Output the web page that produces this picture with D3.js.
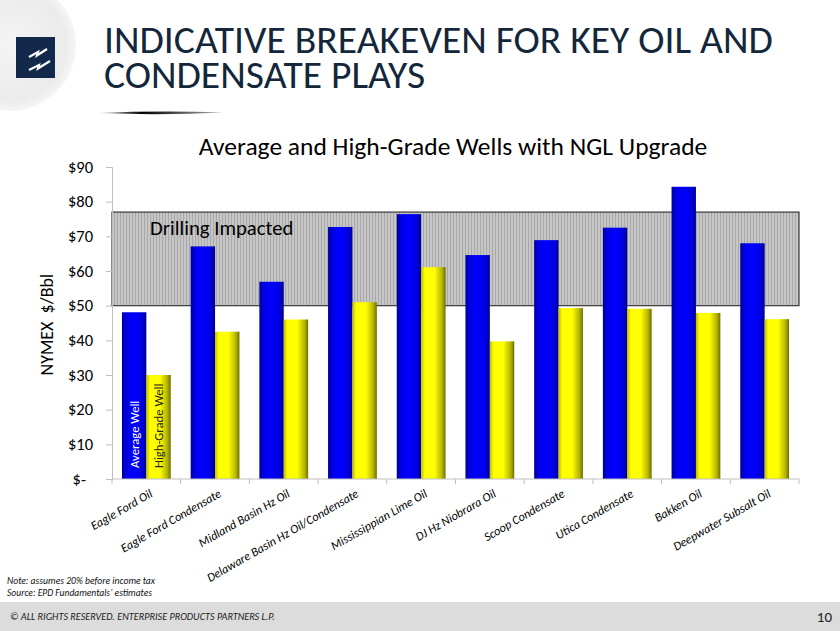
<!DOCTYPE html>
<html>
<head>
<meta charset="utf-8">
<script src="https://cdn.jsdelivr.net/npm/d3@7"></script>
<style>
  body { margin: 0; background: #fff; }
  svg { display: block; font-family: Carlito, Calibri, "Open Sans", sans-serif; }
</style>
</head>
<body>
<script>
// chart data
var categories = ["Eagle Ford Oil", "Eagle Ford Condensate", "Midland Basin Hz Oil",
    "Delaware Basin Hz Oil/Condensate", "Mississippian Lime Oil", "DJ Hz Niobrara Oil",
    "Scoop Condensate", "Utica Condensate", "Bakken Oil", "Deepwater Subsalt Oil"];
var averageWell = [48.1, 67.1, 56.9, 72.7, 76.4, 64.6, 68.9, 72.5, 84.3, 68.0];
var highGradeWell = [30.0, 42.5, 46.0, 51.0, 61.1, 39.7, 49.3, 49.1, 47.9, 46.1];
var seriesNames = ["Average Well", "High-Grade Well"];
var yTicks = [0, 10, 20, 30, 40, 50, 60, 70, 80, 90];
var impactedBand = [50, 77];

var width = 840, height = 631;
var plot = {left: 112, right: 799, top: 167, bottom: 479};

var svg = d3.select("body").append("svg")
    .attr("width", width)
    .attr("height", height);

var defs = svg.append("defs");

// bar gradients
function barGradient(id, stops){
    var g = defs.append("linearGradient").attr("id", id)
        .attr("x1", "0%").attr("x2", "100%").attr("y1", "0%").attr("y2", "0%");
    stops.forEach(function(s){
        g.append("stop").attr("offset", s[0]).attr("stop-color", s[1]);
    });
}
barGradient("gradBlue", [["0%", "#00009a"], ["18%", "#0000e6"], ["50%", "#0000ff"], ["82%", "#0000e0"], ["100%", "#000090"]]);
barGradient("gradYellow", [["0%", "#bdbd00"], ["15%", "#ffff00"], ["55%", "#ffff00"], ["85%", "#b5b500"], ["100%", "#6e6e00"]]);

var logoGrad = defs.append("radialGradient").attr("id", "logoBg");
logoGrad.append("stop").attr("offset", "0%").attr("stop-color", "#f4f4f4");
logoGrad.append("stop").attr("offset", "85%").attr("stop-color", "#ebebeb");
logoGrad.append("stop").attr("offset", "100%").attr("stop-color", "#f6f6f6");

var swoosh = defs.append("linearGradient").attr("id", "swoosh");
swoosh.append("stop").attr("offset", "0%").attr("stop-color", "#000").attr("stop-opacity", 0.2);
swoosh.append("stop").attr("offset", "35%").attr("stop-color", "#000");
swoosh.append("stop").attr("offset", "100%").attr("stop-color", "#000").attr("stop-opacity", 0.3);

// striped fill for the drilling impacted band
var pat = defs.append("pattern").attr("id", "stripes")
    .attr("patternUnits", "userSpaceOnUse").attr("width", 3).attr("height", 4);
pat.append("rect").attr("width", 3).attr("height", 4).attr("fill", "#c6c6c6");
pat.append("rect").attr("width", 1).attr("height", 4).attr("fill", "#a9a9a9");

// logo corner
svg.append("circle").attr("cx", 10).attr("cy", 45).attr("r", 66).attr("fill", "url(#logoBg)");
svg.append("rect").attr("x", 16).attr("y", 37).attr("width", 39).attr("height", 41).attr("fill", "#13294b");
svg.append("path")
    .attr("d", "M29,57 L38,52 L37,55.5 L47,49 M29,70 L39,65 L38,68.5 L50,61")
    .attr("fill", "none").attr("stroke", "#fff").attr("stroke-width", 2.2)
    .attr("stroke-linejoin", "miter");

// slide title
var title = svg.append("g").attr("fill", "#14263a").style("font-size", "39.6px");
title.append("text").attr("x", 104).attr("y", 53).text("INDICATIVE BREAKEVEN FOR KEY OIL AND");
title.append("text").attr("x", 104).attr("y", 88).text("CONDENSATE PLAYS");
svg.append("path")
    .attr("d", "M98,113 Q160,110.5 224,112.5 Q160,115.5 98,113 Z")
    .attr("fill", "url(#swoosh)");

// chart title
svg.append("text").attr("x", 453).attr("y", 155).attr("text-anchor", "middle")
    .style("font-size", "25.5px").attr("fill", "#000")
    .text("Average and High-Grade Wells with NGL Upgrade");

// scales
var x0 = d3.scaleBand().domain(categories)
    .range([plot.left, plot.right]).paddingInner(0.29).paddingOuter(0.145);
var x1 = d3.scaleBand().domain(seriesNames).range([0, x0.bandwidth()]);
var y = d3.scaleLinear().domain([0, 90]).range([plot.bottom, plot.top]);

// band
svg.append("rect")
    .attr("x", plot.left)
    .attr("y", y(impactedBand[1]))
    .attr("width", plot.right - plot.left)
    .attr("height", y(impactedBand[0]) - y(impactedBand[1]))
    .attr("fill", "url(#stripes)")
    .attr("stroke", "#3a3a3a").attr("stroke-width", 1.2);
svg.append("text").attr("x", 150).attr("y", 235)
    .style("font-size", "20.7px").attr("fill", "#000").text("Drilling Impacted");

// y axis
var yAxis = svg.append("g").attr("transform", "translate(" + plot.left + ",0)")
    .call(d3.axisLeft(y).tickValues(yTicks).tickSize(6).tickPadding(13)
        .tickFormat(function(d){ return d === 0 ? "$-" : "$" + d; }));
yAxis.attr("font-family", null);
yAxis.select(".domain").attr("stroke", "#bfbfbf");
yAxis.selectAll(".tick line").attr("stroke", "#bfbfbf");
yAxis.selectAll(".tick text").style("font-size", "16.5px").attr("fill", "#000")
    .attr("dx", function(d){ return d === 0 ? -7 : 0; });

svg.append("text")
    .attr("transform", "translate(53," + y(44.5) + ") rotate(-90)")
    .attr("text-anchor", "middle").style("font-size", "18px").attr("fill", "#000")
    .text("NYMEX\u00a0\u00a0$/Bbl");

// bars
var rows = categories.map(function(c, i){
    return {cat: c, vals: [
        {name: seriesNames[0], v: averageWell[i], fill: "url(#gradBlue)"},
        {name: seriesNames[1], v: highGradeWell[i], fill: "url(#gradYellow)"}
    ]};
});
var groups = svg.selectAll(".grp").data(rows).enter().append("g")
    .attr("class", "grp")
    .attr("transform", function(d){ return "translate(" + x0(d.cat) + ",0)"; });
groups.selectAll("rect").data(function(d){ return d.vals; }).enter().append("rect")
    .attr("x", function(d){ return x1(d.name); })
    .attr("width", x1.bandwidth())
    .attr("y", function(d){ return y(d.v); })
    .attr("height", function(d){ return y(0) - y(d.v); })
    .attr("fill", function(d){ return d.fill; });

// series labels in the first group
var first = x0(categories[0]);
svg.append("text")
    .attr("transform", "translate(" + (first + x1(seriesNames[0]) + x1.bandwidth() / 2 + 4.5) + ",468) rotate(-90)")
    .style("font-size", "12.7px").attr("fill", "#fff").text(seriesNames[0]);
svg.append("text")
    .attr("transform", "translate(" + (first + x1(seriesNames[1]) + x1.bandwidth() / 2 + 4.5) + ",468) rotate(-90)")
    .style("font-size", "12.7px").attr("fill", "#222").text(seriesNames[1]);

// x axis
svg.append("line").attr("x1", plot.left).attr("x2", plot.right)
    .attr("y1", plot.bottom).attr("y2", plot.bottom).attr("stroke", "#bfbfbf");
var bounds = d3.range(categories.length + 1).map(function(i){ return plot.left + i * x0.step(); });
svg.selectAll(".xtick").data(bounds).enter().append("line")
    .attr("x1", function(d){ return d; }).attr("x2", function(d){ return d; })
    .attr("y1", plot.bottom).attr("y2", plot.bottom + 5).attr("stroke", "#bfbfbf");
svg.selectAll(".xlab").data(categories).enter().append("text")
    .attr("text-anchor", "end")
    .attr("transform", function(d){
        return "translate(" + (x0(d) + x0.bandwidth() / 2 + 7) + "," + (plot.bottom + 17) + ") rotate(-30)";
    })
    .style("font-size", "12.3px").style("font-style", "italic").attr("fill", "#000")
    .text(function(d){ return d; });

// notes
var notes = svg.append("g").style("font-size", "9.5px").style("font-style", "italic").attr("fill", "#111");
notes.append("text").attr("x", 7).attr("y", 584)
    .attr("textLength", 148).attr("lengthAdjust", "spacingAndGlyphs")
    .text("Note:  assumes 20% before income tax");
notes.append("text").attr("x", 7).attr("y", 595.5)
    .attr("textLength", 145).attr("lengthAdjust", "spacingAndGlyphs")
    .text("Source:  EPD Fundamentals\u2019 estimates");

// footer
svg.append("rect").attr("x", 0).attr("y", 602).attr("width", width).attr("height", 29).attr("fill", "#dcdcdc");
svg.append("text").attr("x", 10).attr("y", 620).style("font-size", "10.2px").style("font-style", "italic")
    .attr("fill", "#222").text("\u00a9 ALL RIGHTS RESERVED. ENTERPRISE PRODUCTS PARTNERS L.P.");
svg.append("text").attr("x", 832).attr("y", 622).attr("text-anchor", "end").style("font-size", "15px")
    .attr("fill", "#222").text("10");
</script>
</body>
</html>
